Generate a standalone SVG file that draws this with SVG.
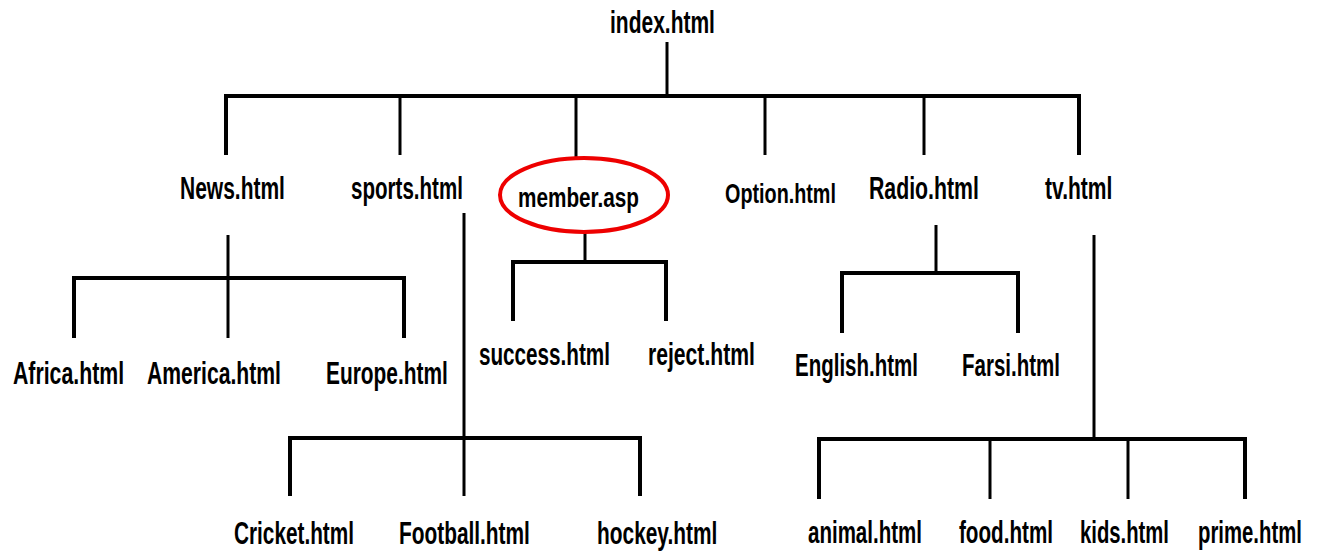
<svg xmlns="http://www.w3.org/2000/svg" width="1322" height="552" viewBox="0 0 1322 552">
<style>
text{font-family:"Liberation Sans",Arial,sans-serif;font-weight:bold;font-size:31px;fill:#000}
.s{font-size:27px}
.c path,.c line{stroke:#000;fill:none;stroke-linecap:butt}
.v{stroke-width:3}
.h{stroke-width:4}
</style>
<rect width="1322" height="552" fill="#fff"/>
<g class="c" id="connectors">
<line class="v" x1="667" y1="42" x2="667" y2="96"/>
<path class="h" d="M226 155V96H1079V155"/>
<line class="v" x1="400" y1="96" x2="400" y2="155"/>
<line class="v" x1="576" y1="96" x2="576" y2="157"/>
<line class="v" x1="765" y1="96" x2="765" y2="155"/>
<line class="v" x1="924" y1="96" x2="924" y2="155"/>
<line class="v" x1="228" y1="235" x2="228" y2="338"/>
<path class="h" d="M74 338V278H404V338"/>
<line class="v" x1="464" y1="213" x2="464" y2="496"/>
<path class="h" d="M290 496V438H640V496"/>
<line class="v" x1="585" y1="233" x2="585" y2="262"/>
<path class="h" d="M513 321V262H666V321"/>
<line class="v" x1="936" y1="225" x2="936" y2="273"/>
<path class="h" d="M842 333V273H1018V333"/>
<line class="v" x1="1094" y1="235" x2="1094" y2="439"/>
<path class="h" d="M819 499V439H1245V499"/>
<line class="v" x1="990" y1="439" x2="990" y2="499"/>
<line class="v" x1="1128" y1="439" x2="1128" y2="499"/>
</g>
<g id="index"><text transform="translate(610,33) scale(0.677,1)">index.html</text></g>
<g id="news"><text transform="translate(180,199) scale(0.677,1)">News.html</text></g>
<g id="sports"><text transform="translate(351,199) scale(0.663,1)">sports.html</text></g>
<g id="member"><ellipse cx="584" cy="195" rx="84" ry="37" fill="none" stroke="#e00" stroke-width="4"/><text class="s" transform="translate(518,207) scale(0.768,1)">member.asp</text></g>
<g id="option"><text class="s" transform="translate(725,203) scale(0.733,1)">Option.html</text></g>
<g id="radio"><text transform="translate(869,199) scale(0.687,1)">Radio.html</text></g>
<g id="tv"><text transform="translate(1045,199) scale(0.679,1)">tv.html</text></g>
<g id="africa"><text transform="translate(13,384) scale(0.686,1)">Africa.html</text></g>
<g id="america"><text transform="translate(147,384) scale(0.682,1)">America.html</text></g>
<g id="europe"><text transform="translate(326,384) scale(0.674,1)">Europe.html</text></g>
<g id="success"><text transform="translate(479,365) scale(0.667,1)">success.html</text></g>
<g id="reject"><text transform="translate(648,365) scale(0.682,1)">reject.html</text></g>
<g id="english"><text transform="translate(795,376) scale(0.661,1)">English.html</text></g>
<g id="farsi"><text transform="translate(962,376) scale(0.662,1)">Farsi.html</text></g>
<g id="cricket"><text transform="translate(234,544) scale(0.670,1)">Cricket.html</text></g>
<g id="football"><text transform="translate(399,544) scale(0.673,1)">Football.html</text></g>
<g id="hockey"><text transform="translate(597,544) scale(0.674,1)">hockey.html</text></g>
<g id="animal"><text transform="translate(808,543) scale(0.662,1)">animal.html</text></g>
<g id="food"><text transform="translate(959,543) scale(0.666,1)">food.html</text></g>
<g id="kids"><text transform="translate(1080,543) scale(0.654,1)">kids.html</text></g>
<g id="prime"><text transform="translate(1198,543) scale(0.656,1)">prime.html</text></g>
</svg>
